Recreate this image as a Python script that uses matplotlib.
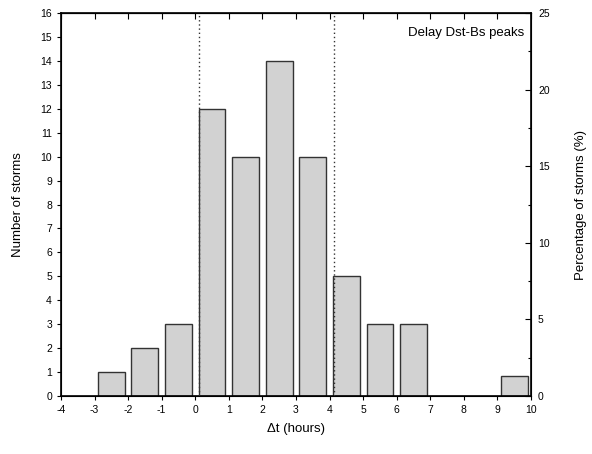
import matplotlib
matplotlib.use("Agg")
import matplotlib.pyplot as plt
import numpy as np

plt.rcParams['font.family'] = ['Liberation Sans', 'DejaVu Sans']
plt.rcParams['axes.unicode_minus'] = False

# histogram bins (left edge of each 1-hour bin) and storm counts
bin_left = [-3, -2, -1, 0, 1, 2, 3, 4, 5, 6, 9]
counts = [1, 2, 3, 12, 10, 14, 10, 5, 3, 3, 0.85]
total_storms = 64
marker_lines = [0.12, 4.12]

fig = plt.figure(figsize=(5.92, 4.54), dpi=100)
ax1 = fig.add_axes([0.103, 0.128, 0.794, 0.843])

centers = np.array(bin_left) + 0.5
ax1.bar(centers, counts, width=0.8, color='#d2d2d2', edgecolor='#333333', linewidth=1.0, zorder=2)

for xv in marker_lines:
    ax1.axvline(xv, color='#333333', linestyle=(0, (1, 2)), linewidth=1.0, zorder=3)

ax1.set_xlim(-4, 10)
ax1.set_ylim(0, 16)
ax1.set_xticks(np.arange(-4, 11, 1))
ax1.set_yticks(np.arange(0, 17, 1))
ax1.tick_params(axis='both', labelsize=7.5, length=3, width=0.8)
ax1.tick_params(axis='x', direction='out')
ax1.tick_params(axis='y', direction='out')
ax1.set_xlabel("\u0394t (hours)", fontsize=9.5, labelpad=6)
ax1.set_ylabel("Number of storms", fontsize=9.5, labelpad=12)

# top axis: inward ticks, no labels
ax_top = ax1.secondary_xaxis('top')
ax_top.set_xticks(np.arange(-4, 11, 1))
ax_top.tick_params(axis='x', direction='in', length=4, width=0.8, labeltop=False)

ax2 = ax1.twinx()
ax2.set_ylim(0, 16 / total_storms * 100)
ax2.set_yticks(np.arange(0, 26, 5))
ax2.set_yticks(np.arange(0, 26, 2.5), minor=True)
ax2.tick_params(axis='y', which='major', direction='in', length=4, width=0.8, labelsize=7.5, pad=5)
ax2.tick_params(axis='y', which='minor', direction='in', length=2, width=0.8)
ax2.set_ylabel("Percentage of storms (%)", fontsize=9.5, labelpad=18)

for sp in ax1.spines.values():
    sp.set_linewidth(1.2)

ax1.text(0.985, 0.965, "Delay Dst-Bs peaks", transform=ax1.transAxes,
         ha='right', va='top', fontsize=9.5)

fig.savefig("out.png", dpi=100)
